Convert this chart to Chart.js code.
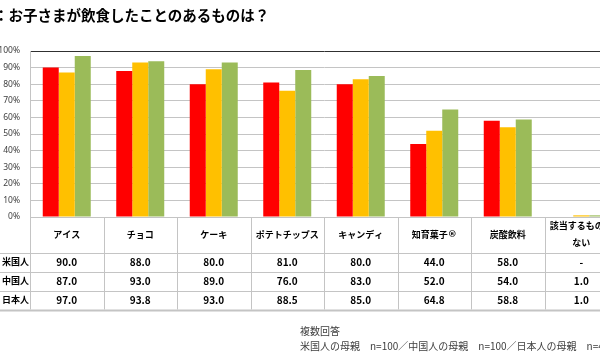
<!DOCTYPE html>
<html><head><meta charset="utf-8">
<script src="https://cdn.jsdelivr.net/npm/chart.js@4"></script>
<style>
html,body{margin:0;padding:0;width:600px;height:356px;overflow:hidden;background:#fff;}
#wrap{position:absolute;left:0;top:0;width:620px;height:356px;}
#title{position:absolute;left:-6px;top:4px;font:bold 14.5px "Noto Sans CJK JP";white-space:nowrap;line-height:22px;color:#000;}
.note{position:absolute;left:300px;font:10px "Noto Sans CJK JP";color:#404040;white-space:nowrap;line-height:14px;}
</style></head><body>
<div id="wrap"><canvas id="c" width="620" height="356"></canvas></div>
<div id="title">：お子さまが飲食したことのあるものは？</div>
<div class="note" style="top:324px">複数回答</div>
<div class="note" style="top:339px">米国人の母親　n=100／中国人の母親　n=100／日本人の母親　n=400</div>
<script>
const categories = ['アイス','チョコ','ケーキ','ポテトチップス','キャンディ','知育菓子®','炭酸飲料',['該当するものは','ない']];
const seriesNames = ['米国人','中国人','日本人'];
const usValues = [90.0, 88.0, 80.0, 81.0, 80.0, 44.0, 58.0, null];
const cnValues = [87.0, 93.0, 89.0, 76.0, 83.0, 52.0, 54.0, 1.0];
const jpValues = [97.0, 93.8, 93.0, 88.5, 85.0, 64.8, 58.8, 1.0];
const yTicks = [0,10,20,30,40,50,60,70,80,90,100];
const colors = ['#FF0000','#FFC000','#9BBB59'];

const allValues = [usValues, cnValues, jpValues];
const LINE = '#c4c4c4';

function drawLabel(ctx, text, cx, cy) {
  // draw with ® rendered in a font where it is full size
  const i = text.indexOf('®');
  if (i < 0) { ctx.fillText(text, cx, cy); return; }
  const main = text.slice(0, i);
  const fMain = ctx.font;
  const fR = 'bold 9px "DejaVu Sans"';
  const w1 = ctx.measureText(main).width;
  ctx.font = fR;
  const w2 = ctx.measureText('®').width;
  const start = cx - (w1 + w2) / 2;
  const al = ctx.textAlign;
  ctx.textAlign = 'left';
  ctx.font = fMain;
  ctx.fillText(main, start, cy);
  ctx.font = fR;
  ctx.fillText('®', start + w1, cy);
  ctx.font = fMain;
  ctx.textAlign = al;
}

const tablePlugin = {
  id: 'dataTable',
  afterDraw(chart) {
    const ctx = chart.ctx, xs = chart.scales.x, a = chart.chartArea;
    const n = categories.length;
    const step = (a.right - a.left) / n;
    const top = a.bottom;
    const headerBottom = top + 35.5;
    const rowH = 19;
    const rowLines = [headerBottom, headerBottom + rowH, headerBottom + 2*rowH, headerBottom + 3*rowH];
    const bottom = rowLines[3];
    ctx.save();
    ctx.strokeStyle = LINE;
    ctx.lineWidth = 1;
    for (let i = 0; i <= n; i++) {
      const x = Math.round(xs.getPixelForValue(i) - step/2) + 0.5;
      ctx.beginPath(); ctx.moveTo(x, top); ctx.lineTo(x, bottom); ctx.stroke();
    }
    ctx.beginPath(); ctx.moveTo(a.left, Math.round(top)+0.5); ctx.lineTo(a.right, Math.round(top)+0.5); ctx.stroke();
    rowLines.forEach((y, i) => {
      ctx.lineWidth = i === 3 ? 2 : 1;
      ctx.beginPath(); ctx.moveTo(0, Math.round(y)+0.5); ctx.lineTo(a.right, Math.round(y)+0.5); ctx.stroke();
    });
    ctx.fillStyle = '#000';
    ctx.textAlign = 'center';
    ctx.textBaseline = 'middle';
    ctx.font = 'bold 9px "Noto Sans CJK JP"';
    categories.forEach((c, i) => {
      const cx = xs.getPixelForValue(i);
      const cy = (top + headerBottom) / 2;
      if (Array.isArray(c)) {
        ctx.fillText(c[0], cx, cy - 9);
        ctx.fillText(c[1], cx, cy + 8);
      } else {
        drawLabel(ctx, c, cx, cy);
      }
    });
    allValues.forEach((vals, r) => {
      const cy = rowLines[r] + rowH/2;
      ctx.textAlign = 'left';
      ctx.font = 'bold 9px "Noto Sans CJK JP"';
      ctx.fillText(seriesNames[r], 2, cy);
      ctx.textAlign = 'center';
      ctx.font = 'bold 10px "Noto Sans CJK JP"';
      vals.forEach((v, i) => {
        ctx.fillText(v === null ? '-' : v.toFixed(1), xs.getPixelForValue(i), cy);
      });
    });
    ctx.restore();
  }
};

new Chart(document.getElementById('c'), {
  type: 'bar',
  data: {
    labels: categories,
    datasets: allValues.map((vals, i) => ({
      label: seriesNames[i],
      data: vals,
      backgroundColor: colors[i],
      borderWidth: 0,
      barPercentage: 1.0,
      categoryPercentage: 0.653
    }))
  },
  options: {
    responsive: false,
    animation: false,
    layout: { padding: { left: 0, right: 2, top: 51, bottom: 139 } },
    plugins: { legend: { display: false }, tooltip: { enabled: false } },
    scales: {
      x: {
        ticks: { display: false },
        grid: { display: false, drawTicks: false },
        border: { display: false },
        afterFit: s => { s.height = 0; }
      },
      y: {
        min: 0, max: 100,
        afterBuildTicks: s => { s.ticks = yTicks.map(v => ({ value: v })); },
        ticks: { callback: v => v + '%', font: { size: 8.5, family: 'Noto Sans' }, color: '#404040', padding: 10 },
        grid: {
          drawTicks: false,
          color: c => (c.tick && c.tick.value === 100) ? '#303030' : LINE,
          lineWidth: 1
        },
        border: { display: true, color: LINE },
        afterFit: s => { s.width = 30; }
      }
    }
  },
  plugins: [tablePlugin]
});
</script>
</body></html>
